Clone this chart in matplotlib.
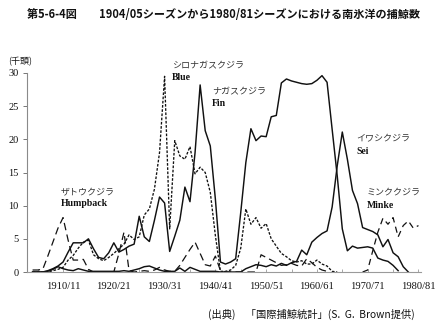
import numpy as np
import matplotlib
matplotlib.use("Agg")
import matplotlib.pyplot as plt

# Antarctic whale catches by season (thousand head); season YYYY/YY+1 plotted at YYYY
years = list(range(1904, 1981))

humpback_years = list(range(1904, 1963))
humpback = [0.3, 0.3, 0.4, 2.4, 4.5, 6.6, 8.2, 4.8, 1.8, 1.8,
            1.9, 0.4, 0.0, 0.0, 0.0, 0.0, 0.0, 2.8, 6.0, 0.2,
            0.0, 0.1, 0.2, 0.1, 0.3, 0.7, 0.3, 0.1, 0.1, 1.0,
            2.2, 3.4, 4.5, 2.8, 1.1, 0.9, 2.4, 0.2, 0.0, 0.0,
            0.0, 0.0, 0.0, 0.0, 0.0, 2.6, 2.2, 1.8, 1.4, 1.0,
            1.1, 1.3, 1.0, 0.9, 2.0, 1.4, 0.7, 0.3, 0.1]

blue_years = list(range(1904, 1965))
blue = [0.0, 0.0, 0.0, 0.0, 0.2, 0.4, 0.7, 1.8, 2.5, 3.6,
        4.5, 4.8, 2.6, 2.0, 1.7, 2.2, 2.8, 3.5, 4.2, 5.6,
        4.9, 5.3, 8.6, 9.5, 12.5, 18.0, 29.5, 6.5, 19.8, 17.5,
        17.0, 18.9, 14.8, 15.8, 15.0, 12.0, 5.5, 0.1, 0.1, 0.3,
        1.0, 3.6, 9.5, 7.2, 8.2, 6.6, 7.3, 5.0, 3.9, 2.8,
        2.3, 1.7, 1.5, 1.7, 1.2, 1.2, 1.8, 1.2, 0.9, 0.1,
        0.0]

fin_years = list(range(1904, 1977))
fin = [0.0, 0.0, 0.0, 0.2, 0.5, 0.9, 1.5, 3.0, 4.4, 4.4,
       4.4, 5.0, 3.5, 2.2, 2.0, 2.9, 4.4, 3.0, 3.4, 3.9,
       4.2, 8.4, 5.3, 4.6, 7.8, 11.3, 10.4, 3.1, 5.4, 7.8,
       12.8, 10.6, 18.0, 28.2, 21.3, 19.0, 11.0, 1.5, 1.2, 1.5,
       2.0, 9.0, 16.5, 21.6, 19.8, 20.5, 20.4, 23.4, 23.6, 28.5,
       29.1, 28.8, 28.6, 28.4, 28.3, 28.4, 28.9, 29.6, 28.6, 21.5,
       14.5, 6.5, 3.2, 3.9, 3.6, 3.7, 3.8, 3.6, 2.1, 1.8,
       1.6, 1.0, 0.2]

sei_years = list(range(1904, 1979))
sei = [0.0, 0.0, 0.0, 0.1, 0.4, 0.8, 0.5, 0.3, 0.2, 0.5,
       0.3, 0.1, 0.1, 0.1, 0.1, 0.1, 0.1, 0.1, 0.2, 0.1,
       0.3, 0.5, 0.8, 0.9, 0.6, 0.3, 0.1, 0.1, 0.1, 0.6,
       0.1, 0.7, 0.4, 0.1, 0.1, 0.1, 0.1, 0.0, 0.0, 0.0,
       0.0, 0.0, 0.5, 0.8, 1.1, 1.0, 0.8, 1.1, 0.9, 1.3,
       1.0, 1.4, 1.6, 3.3, 2.6, 4.5, 5.2, 5.8, 6.2, 9.8,
       16.0, 21.1, 17.0, 12.3, 10.3, 6.7, 6.4, 6.1, 5.6, 3.8,
       4.9, 2.9, 2.3, 0.8, 0.0]

minke_years = list(range(1969, 1981))
minke = [0.0, 0.3, 3.2, 6.0, 8.1, 7.2, 8.2, 5.3, 7.0, 7.7, 6.6, 7.0]

xtick_years = [1910, 1920, 1930, 1940, 1950, 1960, 1970, 1980]
xtick_labels = ["1910/11", "1920/21", "1930/31", "1940/41",
                "1950/51", "1960/61", "1970/71", "1980/81"]
ytick_values = [0, 5, 10, 15, 20, 25, 30]

title = "第5-6-4図　　1904/05シーズンから1980/81シーズンにおける南氷洋の捕鯨数"
unit_label = "(千頭)"
source_note = "(出典)　「国際捕鯨統計」(S.  G.  Brown提供)"

species_labels = [
    ("ザトウクジラ", "Humpback", 61, 192, 203),
    ("シロナガスクジラ", "Blue", 172, 66, 78),
    ("ナガスクジラ", "Fin", 212, 92, 103),
    ("イワシクジラ", "Sei", 356, 139, 151),
    ("ミンククジラ", "Minke", 367, 192, 206),
]

W, H = 441, 327
fig = plt.figure(figsize=(W / 100, H / 100), dpi=100)
fig.patch.set_facecolor("white")

x0, x1, y0, y1 = 27, 421, 73, 272
ax = fig.add_axes([x0 / W, 1 - y1 / H, (x1 - x0) / W, (y1 - y0) / H])
ax.set_facecolor("none")

ink = "#111111"
ax.plot(fin_years, fin, color=ink, lw=1.05, ls="-")
ax.plot(sei_years, sei, color=ink, lw=1.05, ls="-")
ax.plot(blue_years, blue, color=ink, lw=0.95, ls=(0, (2.0, 1.2)))
ax.plot(humpback_years, humpback, color=ink, lw=0.9, ls=(0, (6, 3.5)))
ax.plot(minke_years, minke, color=ink, lw=0.9, ls=(0, (5, 3.5)))

ax.set_xlim(1902.9, 1980.5)
ax.set_ylim(0, 30)

for s in ["top", "right"]:
    ax.spines[s].set_visible(False)
ax.spines["left"].set_color("#8a8a8a")
ax.spines["left"].set_linewidth(0.8)
ax.spines["bottom"].set_color("#9a9a9a")
ax.spines["bottom"].set_linewidth(0.8)

serif = "Liberation Serif"
ax.set_yticks(ytick_values)
ax.set_yticklabels([str(v) for v in ytick_values], family=serif, fontsize=7.5)
ax.set_xticks(xtick_years)
ax.set_xticklabels(xtick_labels, family=serif, fontsize=7.6)
ax.set_xticks(list(range(1905, 1981, 5)), minor=True)
ax.tick_params(axis="y", length=3, width=0.7, color="#777777", pad=3, labelcolor=ink)
ax.tick_params(axis="x", which="both", direction="in", length=2, width=0.6,
               color="#999999", pad=7, labelcolor=ink)

jp = ["Noto Sans CJK JP", "DejaVu Sans"]
fig.text(223 / W, 1 - 14 / H, title, family=jp, fontsize=8.0, fontweight="bold",
         ha="center", va="center", color=ink)
fig.text(8 / W, 1 - 62 / H, unit_label, family=jp, fontsize=6.5,
         ha="left", va="center", color=ink)
fig.text(415 / W, 1 - 314 / H, source_note, family=jp, fontsize=7.4,
         ha="right", va="center", color=ink)

for jname, ename, px, py_j, py_e in species_labels:
    fig.text(px / W, 1 - py_j / H, jname, family=jp, fontsize=6.5,
             ha="left", va="center", color="#333333", style="italic")
    fig.text(px / W, 1 - py_e / H, ename, family=serif, fontsize=7.0,
             fontweight="bold", ha="left", va="center", color=ink)

fig.savefig("out.png", dpi=100, facecolor="white")
